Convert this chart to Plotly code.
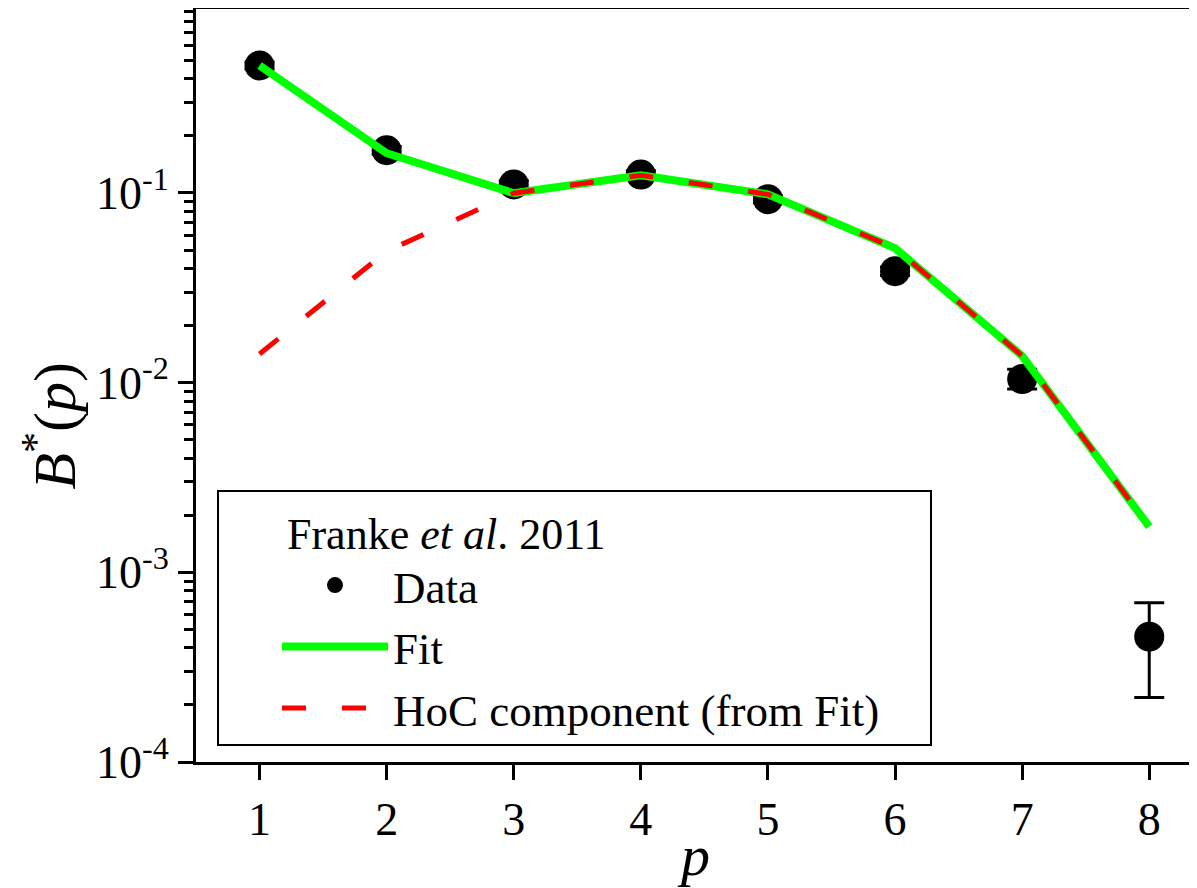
import plotly.graph_objects as go

# ---- data ----
p_vals = [1, 2, 3, 4, 5, 6, 7, 8]
data_vals = [0.470, 0.168, 0.111, 0.125, 0.0927, 0.0387, 0.01045, 0.000458]
data_err_plus = [0.02, 0.008, 0.005, 0.006, 0.004, 0.002, 0.0013, 0.000234]
data_err_minus = [0.02, 0.008, 0.005, 0.006, 0.004, 0.002, 0.0012, 0.000239]
fit_vals = [0.470, 0.162, 0.0997, 0.124, 0.0984, 0.0512, 0.01384, 0.00174]
hoc_vals = [0.01416, 0.0493, 0.0997, 0.124, 0.0984, 0.0512, 0.01384, 0.00174]

x_ticks = [1, 2, 3, 4, 5, 6, 7, 8]
y_ticks = [1e-4, 1e-3, 1e-2, 1e-1]
y_ticktext = ["10<sup>-4</sup>", "10<sup>-3</sup>", "10<sup>-2</sup>", "10<sup>-1</sup>"]
y_minor = [k * 10.0 ** e for e in (-4, -3, -2, -1) for k in range(2, 10)]

FONT = "Liberation Serif"

fig = go.Figure()
fig.add_trace(go.Scatter(
    x=p_vals, y=data_vals, mode="markers", name="Data",
    marker=dict(color="black", size=30),
    error_y=dict(type="data", array=data_err_plus, arrayminus=data_err_minus,
                 color="black", thickness=3, width=15),
))
fig.add_trace(go.Scatter(
    x=p_vals, y=fit_vals, mode="lines", name="Fit",
    line=dict(color="#00ff00", width=8),
))
fig.add_trace(go.Scatter(
    x=p_vals, y=hoc_vals, mode="lines", name="HoC component (from Fit)\u2003",
    line=dict(color="#ff0000", width=5, dash="24px,36px"),
))

axis_common = dict(showgrid=False, zeroline=False, linecolor="black", linewidth=3,
                   tickcolor="black", tickwidth=3, automargin=False)

fig.update_layout(
    width=1189, height=880,
    margin=dict(l=188, r=2, t=1, b=126),
    paper_bgcolor="white", plot_bgcolor="white",
    font=dict(family=FONT, size=46, color="black"),
    xaxis=dict(range=[0.5, 8.36], tickvals=x_ticks, ticks="outside", ticklen=15,
               showline=True, mirror=True, tickfont=dict(family=FONT, size=46),
               title=dict(text="\u2009\u2009<i>p</i>", font=dict(size=58, family=FONT), standoff=4),
               **axis_common),
    xaxis2=dict(range=[0.5, 8.36], overlaying="x", side="top", anchor="y",
                tickvals=x_ticks, ticks="inside", ticklen=15, showticklabels=False,
                showline=False, **axis_common),
    yaxis=dict(type="log", range=[-4, -0.03], tickvals=y_ticks, ticktext=y_ticktext,
               ticks="outside", ticklen=15, showline=True, mirror=True,
               tickfont=dict(family=FONT, size=46),
               minor=dict(tickvals=y_minor, ticks="outside", ticklen=9,
                          tickcolor="black", tickwidth=3, showgrid=False),
               **axis_common),
    yaxis2=dict(type="log", range=[-4, -0.03], overlaying="y", side="right", anchor="x",
                tickvals=y_ticks, ticks="inside", ticklen=15, showticklabels=False,
                showline=False,
                minor=dict(tickvals=y_minor, ticks="inside", ticklen=9,
                           tickcolor="black", tickwidth=3, showgrid=False),
                **axis_common),
    legend=dict(x=0.021, y=0.361, xanchor="left", yanchor="top",
                bordercolor="black", borderwidth=2, bgcolor="white",
                font=dict(size=45, family=FONT), itemwidth=106, indentation=58,
                title=dict(text="\u2003\u2002Franke <i>et al</i>. 2011",
                           font=dict(size=44, family=FONT))),
    showlegend=True,
    annotations=[dict(
        text="<i>B</i><sup>*</sup>(<i>p</i>)", textangle=-90,
        xref="paper", yref="paper", x=-0.146, y=0.447,
        xanchor="center", yanchor="middle", showarrow=False, borderpad=0,
        font=dict(size=60, family=FONT, color="black"),
    )],
)

fig.write_html("out.html")
